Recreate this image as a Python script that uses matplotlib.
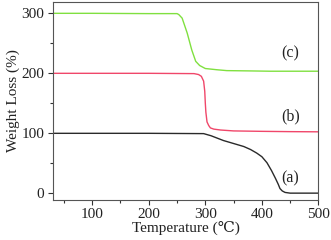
import numpy as np
import matplotlib
matplotlib.use("Agg")
from matplotlib import pyplot as plt
from matplotlib.ticker import MultipleLocator

# TGA curves (temperature in C, weight loss in %, offset by 100 per curve)
temp_a = [30, 100, 200, 297, 310, 332, 350, 368, 380, 391, 400, 409, 417, 424, 429, 432, 436, 441, 450, 500]
loss_a = [100, 100, 100, 99.5, 96, 88, 83, 78, 73, 67, 61, 51, 38, 25, 15, 8, 4, 1.5, 0.3, 0.3]

temp_b = [30, 100, 200, 280, 288, 293, 297, 299, 300, 301, 303, 306, 309, 315, 327, 350, 400, 450, 500]
loss_b = [200, 200, 200, 199.5, 198, 195, 187, 170, 150, 135, 119, 113, 109, 107, 105.5, 104, 103.3, 102.8, 102.5]

temp_c = [30, 100, 200, 250, 253, 259, 268, 276, 283, 290, 300, 320, 338, 380, 415, 500]
loss_c = [300, 300, 299.5, 299.5, 298, 292, 267, 239, 220, 213, 208, 206, 204.5, 204, 203.5, 203.5]

curve_labels = ["(a)", "(b)", "(c)"]
label_x = [450, 450, 450]
label_y = [25, 129, 233]

plt.rcParams["font.family"] = ["Liberation Serif", "DejaVu Serif"]

fig = plt.figure(figsize=(3.31, 2.40), dpi=100)
ax = fig.add_axes([0.159, 0.167, 0.803, 0.825])

ax.plot(temp_a, loss_a, color="#2a2a2a", lw=1.0)
ax.plot(temp_b, loss_b, color="#f0476a", lw=1.0)
ax.plot(temp_c, loss_c, color="#80e040", lw=1.0)

for txt, x, y in zip(curve_labels, label_x, label_y):
    ax.text(x, y, txt, fontsize=11.5, ha="center", va="center", color="#222222")

ax.set_xlim(30, 500)
ax.set_ylim(-11, 319)
ax.xaxis.set_major_locator(MultipleLocator(100))
ax.xaxis.set_minor_locator(MultipleLocator(50))
ax.yaxis.set_major_locator(MultipleLocator(100))
ax.yaxis.set_minor_locator(MultipleLocator(50))
ax.tick_params(which="major", direction="out", length=3.5, width=0.8, labelsize=11,
               colors="#333333", labelcolor="#222222", pad=2.5)
ax.tick_params(which="minor", direction="out", length=2, width=0.8, colors="#333333")
for sp in ax.spines.values():
    sp.set_color("#555555")
    sp.set_linewidth(0.8)

ax.set_xlabel("Temperature (℃)", fontsize=11, color="#222222", labelpad=0)
ax.set_ylabel("Weight Loss (%)", fontsize=11, color="#222222", labelpad=1)

fig.savefig("out.png", dpi=100)
plt.close()
